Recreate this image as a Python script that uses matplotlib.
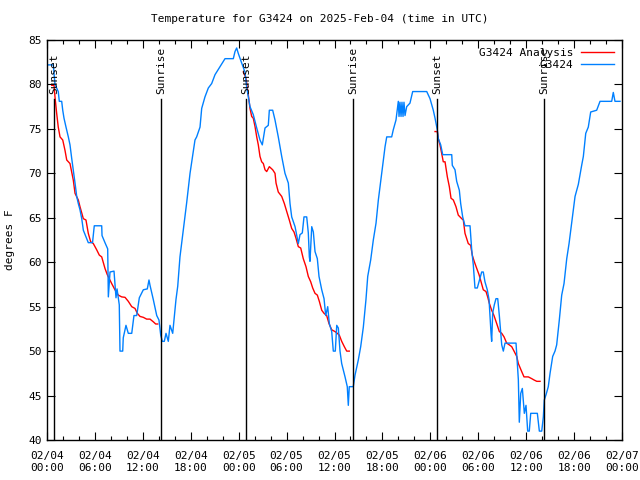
import numpy as np
import matplotlib
matplotlib.use("Agg")
import matplotlib.pyplot as plt
import matplotlib.dates as mdates
from datetime import datetime, timedelta

plt.rcParams['font.family'] = ['DejaVu Sans Mono']

BASE = datetime(2025, 2, 4)

# Observed G3424 (hours since 2025-02-04 00:00 UTC, degrees F)
obs_hours = [0.16, 0.79, 1.00, 1.41, 1.54, 1.84, 1.97, 2.13, 2.38, 2.67, 2.88, 3.09, 3.29, 3.51, 3.72, 3.92,
             4.13, 4.35, 4.55, 5.17, 5.70, 5.92, 6.85, 6.89, 7.26, 7.60, 7.68, 7.89, 8.39, 8.64, 8.77, 9.05,
             9.14, 9.48, 9.55, 9.89, 10.18, 10.61, 10.89, 11.23, 11.56, 12.06, 12.56, 12.77, 12.90, 13.31,
             13.74, 14.02, 14.24, 14.44, 14.69, 14.90, 15.19, 15.40, 15.74, 15.90, 16.15, 16.37, 16.65,
             17.07, 17.49, 17.91, 18.53, 18.74, 19.16, 19.37, 19.78, 20.20, 20.62, 21.04, 21.66, 22.29,
             23.33, 23.54, 23.75, 23.95, 24.38, 24.79, 25.00, 25.21, 25.42, 25.83, 26.26, 26.67, 26.96,
             27.30, 27.71, 27.84, 28.26, 28.55, 28.96, 29.39, 29.80, 30.22, 30.43, 30.64, 31.06, 31.47,
             31.68, 31.97, 32.18, 32.52, 32.72, 32.85, 32.93, 33.15, 33.35, 33.56, 33.85, 34.06, 34.40,
             34.69, 34.90, 35.15, 35.35, 35.65, 35.85, 36.10, 36.28, 36.48, 36.69, 36.90, 37.32, 37.60,
             37.73, 37.85, 38.35, 38.57, 38.98, 39.28, 39.61, 39.94, 40.16, 40.53, 40.86, 41.20, 41.49,
             41.91, 42.33, 42.54, 43.16, 43.36, 43.70, 43.99, 44.08, 44.20, 44.33, 44.45, 44.58, 44.70,
             44.83, 45.04, 45.45, 45.79, 47.55, 47.96, 48.37, 48.59, 48.87, 49.00, 49.30, 49.55, 50.68,
             50.75, 51.09, 51.30, 51.63, 51.80, 52.05, 52.34, 52.97, 53.18, 53.38, 53.59, 53.88, 54.22,
             54.43, 54.63, 54.84, 55.13, 55.35, 55.47, 55.60, 55.68, 55.81, 56.01, 56.22, 56.44, 56.64,
             56.94, 57.14, 57.35, 58.73, 58.82, 59.02, 59.14, 59.32, 59.52, 59.64, 59.77, 59.98, 60.19,
             60.39, 60.57, 61.40, 61.65, 61.95, 62.15, 62.27, 62.49, 62.77, 62.99, 63.32, 63.61, 63.82,
             64.15, 64.45, 64.74, 65.08, 65.37, 65.70, 66.12, 66.53, 66.95, 67.16, 67.46, 67.78, 68.08,
             68.83, 69.25, 70.71, 70.91, 71.12, 71.75]
obs_temp = [82.2, 82.2, 80.0, 79.2, 78.1, 78.1, 77.1, 76.2, 75.2, 74.1, 73.2, 71.7, 70.4, 68.9, 67.4, 66.6,
            65.9, 64.9, 63.6, 62.2, 62.2, 64.1, 64.1, 63.0, 62.2, 61.5, 56.1, 58.9, 59.0, 56.0, 57.0, 55.2,
            50.0, 50.0, 51.5, 52.9, 52.0, 52.0, 54.0, 54.0, 56.0, 56.9, 57.0, 58.0, 57.4, 55.8,
            54.0, 53.5, 51.8, 51.1, 51.1, 52.0, 51.1, 52.9, 52.0, 53.5, 55.8, 57.3, 60.6,
            63.6, 66.7, 70.0, 73.75, 74.1, 75.2, 77.3, 78.6, 79.6, 80.1, 81.1, 82.0, 82.9,
            82.9, 83.7, 84.1, 83.5, 82.4, 81.4, 79.7, 78.6, 77.5, 76.6, 75.1, 73.75, 73.2,
            75.1, 75.4, 77.1, 77.1, 76.0, 74.1, 71.9, 70.0, 68.9, 66.6, 65.1, 64.0, 62.1,
            63.1, 63.3, 65.1, 65.1, 63.3, 60.6, 60.1, 64.0, 63.4, 61.2, 60.4, 58.4, 56.9,
            55.9, 54.0, 55.0, 53.1, 52.2, 50.0, 50.0, 52.9, 52.6, 50.0, 48.6, 47.1, 46.0,
            43.9, 46.0, 46.0, 47.3, 49.0, 50.5, 52.7, 55.8, 58.4, 60.25, 62.5, 64.4, 67.0,
            70.0, 73.0, 74.1, 74.1, 74.9, 76.0, 78.1, 76.4, 78.0, 76.4, 78.0, 76.4, 78.0,
            76.5, 77.5, 77.9, 79.2, 79.2, 78.4, 77.1, 76.2, 74.9, 73.9, 73.2, 72.1, 72.1,
            70.9, 70.4, 69.1, 68.1, 66.6, 65.1, 64.1, 64.1, 61.4, 59.7, 57.1, 57.1, 58.2,
            58.9, 58.9, 57.8, 56.9, 55.8, 54.0, 52.0, 51.1, 54.3, 55.2, 55.9, 55.9, 54.0,
            50.7, 50.0, 50.9, 50.9, 49.6, 46.8, 42.0, 45.25, 45.8, 44.5, 43.0, 43.9, 41.0,
            41.0, 43.0, 43.0, 41.0, 41.0, 42.6, 44.5, 45.1, 46.0, 47.5, 49.4, 50.0, 50.7,
            53.5, 56.3, 57.6, 60.4, 62.1, 64.4, 67.4, 68.75, 70.9, 71.9, 74.5, 75.2, 76.9,
            77.1, 78.1, 78.1, 79.1, 78.1, 78.1]

# Analysis (three nights)
ana1_hours = [0.59, 0.88, 1.00, 1.21, 1.41, 1.63, 1.97, 2.25, 2.47, 2.88, 3.29, 3.51, 3.92, 4.13, 4.55,
              4.88, 5.17, 5.47, 5.80, 6.22, 6.55, 6.85, 7.26, 7.55, 8.10, 8.51, 8.93, 9.35, 9.77, 10.18,
              10.61, 11.02, 11.31, 11.65, 12.06, 12.48, 12.90, 13.31, 13.61, 13.86]
ana1_temp = [79.9, 79.9, 78.6, 76.75, 75.2, 74.1, 73.75, 72.6, 71.5, 71.1, 69.25, 67.75, 67.0, 66.25, 64.9,
             64.75, 63.25, 62.3, 62.1, 61.4, 60.8, 60.6, 59.3, 58.6, 57.6, 56.9, 56.3, 56.1, 56.05, 55.6,
             55.0, 54.8, 54.25, 53.9, 53.8, 53.6, 53.6, 53.3, 53.05, 53.05]
ana2_hours = [24.58, 24.92, 25.21, 25.42, 25.63, 25.83, 26.05, 26.26, 26.46, 26.67, 26.88, 27.09, 27.30,
              27.51, 27.84, 28.26, 28.55, 28.68, 28.96, 29.39, 29.72, 30.02, 30.34, 30.64, 30.93, 31.18,
              31.47, 31.77, 32.09, 32.43, 32.72, 33.02, 33.27, 33.56, 33.85, 34.10, 34.40, 34.69, 35.02,
              35.31, 35.65, 36.06, 36.35, 36.60, 36.90, 37.23, 37.53, 37.85]
ana2_temp = [81.4, 80.7, 78.8, 77.3, 76.4, 76.2, 75.25, 74.1, 73.2, 71.9, 71.3, 71.1, 70.4,
             70.2, 70.75, 70.4, 70.0, 68.9, 67.9, 67.4, 66.6, 65.7, 64.75, 63.8, 63.4, 62.7,
             61.75, 61.6, 60.4, 59.5, 58.4, 57.8, 57.1, 56.5, 56.3, 55.6, 54.6, 54.25, 54.0,
             53.1, 52.4, 52.2, 52.0, 51.8, 51.1, 50.5, 50.0, 50.0]
ana3_hours = [48.59, 48.87, 49.00, 49.21, 49.42, 49.62, 49.84, 50.13, 50.38, 50.59, 50.88, 51.21, 51.50,
              51.93, 52.13, 52.34, 52.75, 53.05, 53.25, 53.51, 53.81, 54.10, 54.35, 54.63, 54.97, 55.18,
              55.38, 55.68, 55.97, 56.31, 56.64, 56.94, 57.23, 57.56, 57.89, 58.19, 58.48, 58.82, 59.02,
              59.44, 59.73, 60.27, 60.70, 60.99, 61.33, 61.74]
ana3_temp = [74.7, 74.7, 73.9, 73.2, 72.25, 71.3, 71.3, 69.6, 68.5, 67.2, 67.0, 66.25, 65.3,
             64.9, 64.75, 63.25, 62.1, 61.9, 60.8, 60.05, 59.3, 58.6, 57.8, 56.9, 56.7, 56.1,
             55.4, 54.6, 54.0, 53.1, 52.2, 52.0, 51.6, 50.9, 50.7, 50.5, 50.0, 49.4, 48.6,
             47.7, 47.1, 47.1, 46.9, 46.75, 46.6, 46.6]

event_hours = [0.92, 14.32, 24.92, 38.36, 48.87, 62.27]
event_labels = ["Sunset", "Sunrise", "Sunset", "Sunrise", "Sunset", "Sunrise"]

def to_dt(hours):
    return [BASE + timedelta(hours=h) for h in hours]

fig = plt.figure(figsize=(6.4, 4.8), dpi=100)
ax = fig.add_axes([47/640, 40/480, 575/640, 400/480])

red = '#ff0000'
blue = '#0080ff'
ax.plot(to_dt(ana1_hours), ana1_temp, color=red, lw=1.0, label='G3424 Analysis')
ax.plot(to_dt(ana2_hours), ana2_temp, color=red, lw=1.0)
ax.plot(to_dt(ana3_hours), ana3_temp, color=red, lw=1.0)
ax.plot(to_dt(obs_hours), obs_temp, color=blue, lw=1.0, label='G3424')

ymin, ymax = 40, 85
line_top = 78.4
for h, lab in zip(event_hours, event_labels):
    t = BASE + timedelta(hours=h)
    ax.plot([t, t], [ymin, line_top], color='black', lw=1.0)
    ax.text(t, 78.9, lab, rotation=90, ha='center', va='bottom', fontsize=8)

ax.set_ylim(ymin, ymax)
ax.set_xlim(BASE, BASE + timedelta(hours=72))
ax.set_yticks(np.arange(40, 86, 5))
ax.xaxis.set_major_locator(mdates.HourLocator(byhour=[0, 6, 12, 18]))
ax.xaxis.set_minor_locator(mdates.HourLocator(byhour=range(0, 24, 2)))
ax.xaxis.set_major_formatter(mdates.DateFormatter('%m/%d\n%H:%M'))
ax.tick_params(which='both', direction='in', top=True, right=True, labelsize=8, width=0.8)
ax.tick_params(which='major', length=6)
ax.tick_params(which='minor', length=3)
ax.tick_params(axis='x', pad=8)
for s in ax.spines.values():
    s.set_linewidth(1.0)

ax.set_ylabel('degrees F', fontsize=8, labelpad=10)
fig.text(0.5, 1 - 19/480, 'Temperature for G3424 on 2025-Feb-04 (time in UTC)',
         ha='center', va='center', fontsize=8)

ax.legend(loc='upper right', frameon=False, fontsize=8, markerfirst=False,
          handlelength=3.0, borderaxespad=0.3, labelspacing=0.2, handletextpad=0.7)

fig.savefig('out.png', dpi=100)
